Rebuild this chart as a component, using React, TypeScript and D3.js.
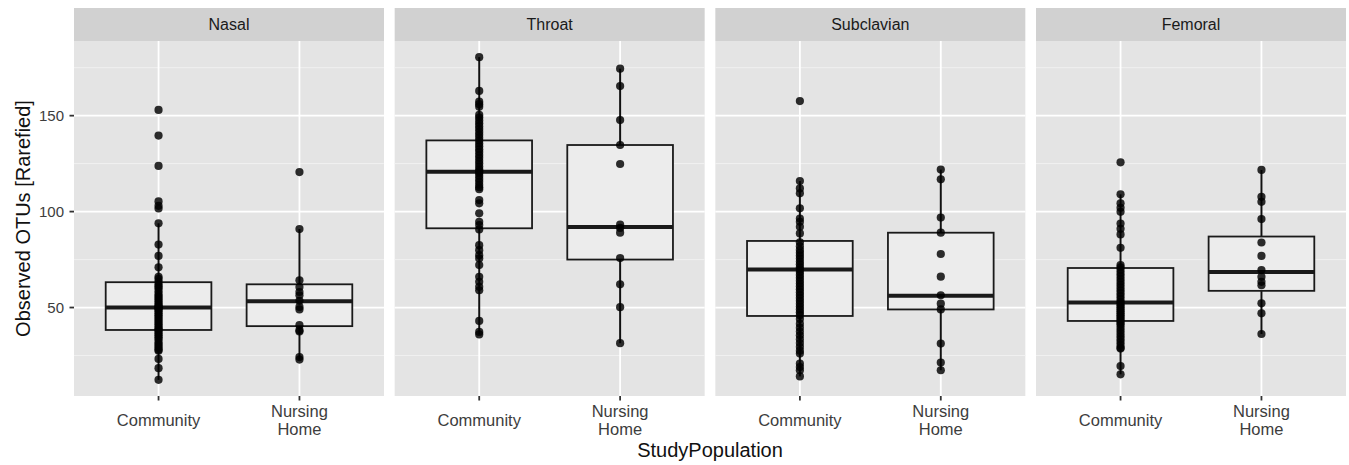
import React from "react";
import * as d3 from "d3";

const panels = ["Nasal", "Throat", "Subclavian", "Femoral"];
const groups = ["Community", "Nursing Home"];
const yTicks = [50, 100, 150];
const yMinorTicks = [25, 75, 125, 175];

// Observed points per panel / group
const nasalCommunity = [153, 139.6, 123.8, 105.3, 103, 101.6, 93.9, 82.8, 76.9, 71, 66, 65, 63.5, 62, 61, 60, 58.5, 57, 56, 55, 54, 53, 52, 51, 50.5, 50, 49.5, 49, 48, 47, 46, 45, 44, 43, 42, 41, 40, 39, 38.5, 37.5, 36.5, 35.5, 34.5, 33.5, 32, 31, 30, 29, 28, 27.5, 23.2, 18.4, 12.3];
const nasalNursing = [120.6, 90.9, 64.2, 60.7, 58.1, 56.4, 53.5, 50.3, 49, 40.8, 38.2, 37.5, 24.2, 22.9];
const throatCommunity = [180.5, 162.9, 157.3, 156, 154.7, 150.4, 149, 147.5, 146, 144.5, 143, 141.5, 140, 138.5, 137, 135.5, 134, 132.5, 131, 129.5, 128, 126.5, 125, 123.5, 122, 121, 120, 118.5, 117, 115.5, 114, 112.7, 111.7, 106, 104.3, 99.1, 94.7, 93, 90.7, 82.5, 79.9, 77.3, 75.6, 72.1, 66, 63.4, 60.8, 59, 43, 37.3, 36];
const throatNursing = [174.5, 165.4, 147.7, 134.7, 124.8, 93.2, 91.5, 89, 75.8, 62.1, 50.2, 31.4];
const subclavianCommunity = [157.6, 115.9, 112.1, 109.5, 101.7, 96.4, 94.7, 92.1, 88.6, 84, 82, 80, 78.5, 77, 75.5, 74, 72.5, 71, 69.8, 68.5, 67, 65.5, 64, 62.5, 61, 59.5, 58, 56.5, 55, 53.5, 52, 50.5, 49, 47.5, 46, 44, 41.6, 39.5, 37.5, 35.5, 33.5, 31.5, 29.5, 27.5, 26, 20.8, 19, 17.3, 14.1];
const subclavianNursing = [121.9, 116.8, 96.9, 89, 77.9, 66.1, 56.4, 52, 49, 31.2, 21.3, 17.3];
const femoralCommunity = [125.7, 109, 104.3, 102, 99.9, 93.8, 91, 88.1, 81.1, 72.1, 71, 69.5, 68, 66.5, 65, 63.5, 62, 60.5, 59, 57.5, 56, 54.5, 53, 52, 51, 50, 49, 48, 47, 46, 45, 44, 43, 42, 41, 39.5, 38, 36.5, 35, 33.5, 32, 30.5, 29, 28.6, 19.5, 15.2];
const femoralNursing = [121.7, 107.7, 105.1, 96.1, 83.9, 76.9, 69.5, 66, 63.4, 61.6, 52.2, 47, 36.2];

const pointSets = [
  [nasalCommunity, nasalNursing],
  [throatCommunity, throatNursing],
  [subclavianCommunity, subclavianNursing],
  [femoralCommunity, femoralNursing],
];

// Box statistics per panel: [Community, Nursing Home]
const boxQ1 = [[38.3, 40.3], [91.3, 75], [45.6, 49], [43, 58.7]];
const boxMedian = [[50, 53.3], [120.8, 92], [69.8, 56.2], [52.6, 68.5]];
const boxQ3 = [[63.2, 62.1], [137.1, 134.7], [84.7, 89], [70.6, 87]];
const whiskerLow = [[12.3, 22.9], [36, 31.4], [14.1, 17.3], [15.2, 36.2]];
const whiskerHigh = [[93.9, 90.9], [180.5, 174.5], [115.9, 121.9], [109, 121.7]];

const W = 1349;
const H = 465;
const plotLeft = 74;
const plotRight = 1346;
const panelGap = 10.67;
const stripTop = 8;
const stripBottom = 41;
const panelBottom = 396;

export default function App() {
  const panelWidth = (plotRight - plotLeft - panelGap * 3) / 4;
  const allVals = pointSets.flat(2);
  const [mn, mx] = d3.extent(allVals) as [number, number];
  const pad = (mx - mn) * 0.05;
  const y = d3.scaleLinear().domain([mn - pad, mx + pad]).range([panelBottom, stripBottom]);

  // ggplot discrete: positions at 0.6 and 1.6 of 2.2 units
  const xPos = d3.scalePoint().domain(groups).range([panelWidth * 0.6 / 2.2, panelWidth * 1.6 / 2.2]);
  const unit = panelWidth / 2.2;
  const boxW = unit * 0.75;

  const font = "Arial, 'Liberation Sans', Helvetica, sans-serif";

  return (
    <svg
      width={W}
      height={H}
      style={{ position: "absolute", left: 0, top: 0, background: "#fff" }}
      fontFamily={font}
    >
      {panels.map((p, pi) => {
        const px = plotLeft + pi * (panelWidth + panelGap);
        return (
          <g key={p} transform={`translate(${px},0)`}>
            <rect x={0} y={stripTop} width={panelWidth} height={stripBottom - stripTop} fill="#d1d1d1" />
            <text
              x={panelWidth / 2}
              y={(stripTop + stripBottom) / 2}
              dy="0.36em"
              textAnchor="middle"
              fontSize={16}
              fill="#1a1a1a"
            >
              {p}
            </text>
            <rect x={0} y={stripBottom} width={panelWidth} height={panelBottom - stripBottom} fill="#e4e4e4" />
            {yMinorTicks.map((t) => (
              <line key={"mi" + t} x1={0} x2={panelWidth} y1={y(t)} y2={y(t)} stroke="#f2f2f2" strokeWidth={0.9} />
            ))}
            {yTicks.map((t) => (
              <line key={"ma" + t} x1={0} x2={panelWidth} y1={y(t)} y2={y(t)} stroke="#ffffff" strokeWidth={1.8} />
            ))}
            {groups.map((g) => (
              <line key={"vx" + g} x1={xPos(g)} x2={xPos(g)} y1={stripBottom} y2={panelBottom} stroke="#ffffff" strokeWidth={1.8} />
            ))}
            {groups.map((g, gi) => {
              const cx = xPos(g) as number;
              const q1 = boxQ1[pi][gi];
              const q3 = boxQ3[pi][gi];
              const med = boxMedian[pi][gi];
              return (
                <g key={"box" + g}>
                  <line x1={cx} x2={cx} y1={y(q3)} y2={y(whiskerHigh[pi][gi])} stroke="#111" strokeWidth={2} />
                  <line x1={cx} x2={cx} y1={y(q1)} y2={y(whiskerLow[pi][gi])} stroke="#111" strokeWidth={2} />
                  <rect
                    x={cx - boxW / 2}
                    y={y(q3)}
                    width={boxW}
                    height={y(q1) - y(q3)}
                    fill="#ececec"
                    stroke="#1a1a1a"
                    strokeWidth={1.8}
                  />
                  <line x1={cx - boxW / 2} x2={cx + boxW / 2} y1={y(med)} y2={y(med)} stroke="#1a1a1a" strokeWidth={4} />
                </g>
              );
            })}
            {groups.map((g, gi) =>
              pointSets[pi][gi].map((v, vi) => (
                <circle key={g + vi} cx={xPos(g)} cy={y(v)} r={4.1} fill="#000" fillOpacity={0.82} />
              ))
            )}
            {groups.map((g) => (
              <line key={"xt" + g} x1={xPos(g)} x2={xPos(g)} y1={panelBottom} y2={panelBottom + 4.5} stroke="#333" strokeWidth={1.8} />
            ))}
            {groups.map((g) => {
              const words = g.split(" ");
              const lines = words.length > 1 ? words : [g];
              const lh = 17.7;
              const base = 426.3 - ((lines.length - 1) * lh) / 2;
              return (
                <text key={"xl" + g} textAnchor="middle" fontSize={16.5} fill="#3d3d3d">
                  {lines.map((ln, li) => (
                    <tspan key={li} x={xPos(g)} y={base + li * lh}>
                      {ln}
                    </tspan>
                  ))}
                </text>
              );
            })}
          </g>
        );
      })}
      {yTicks.map((t) => (
        <g key={"yt" + t}>
          <line x1={plotLeft - 4.5} x2={plotLeft} y1={y(t)} y2={y(t)} stroke="#333" strokeWidth={1.8} />
          <text x={plotLeft - 10} y={y(t)} dy="0.36em" textAnchor="end" fontSize={15} fill="#3d3d3d">
            {t}
          </text>
        </g>
      ))}
      <text
        transform={`translate(30,${(stripBottom + panelBottom) / 2}) rotate(-90)`}
        textAnchor="middle"
        fontSize={20}
        fill="#111"
      >
        Observed OTUs [Rarefied]
      </text>
      <text x={(plotLeft + plotRight) / 2} y={456.5} textAnchor="middle" fontSize={20} fill="#111">
        StudyPopulation
      </text>
    </svg>
  );
}
